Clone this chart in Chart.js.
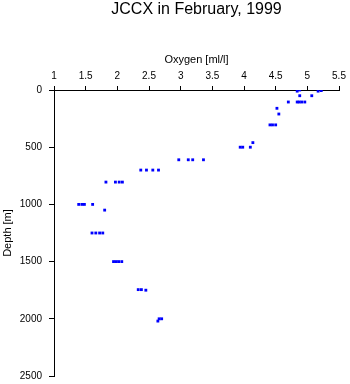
<!DOCTYPE html>
<html>
<head>
<meta charset="utf-8">
<script src="https://cdn.jsdelivr.net/npm/chart.js@4/dist/chart.umd.min.js"></script>
<style>
html,body{margin:0;padding:0;background:#fff;}
canvas{display:block;}
</style>
</head>
<body>
<canvas id="c" width="350" height="384"></canvas>
<script>
const titleText = "JCCX in February, 1999";
const xTitle = "Oxygen [ml/l]";
const yTitle = "Depth [m]";
const xTicks = [1, 1.5, 2, 2.5, 3, 3.5, 4, 4.5, 5, 5.5];
const yTicks = [0, 500, 1000, 1500, 2000, 2500];
const oxygen = [4.84, 4.88, 5.17, 5.22, 4.88, 5.07,
  4.70, 4.84, 4.87, 4.91, 4.96, 4.52, 4.55, 4.41, 4.45, 4.50,
  4.14, 3.94, 3.98, 4.10,
  2.97, 3.12, 3.19, 3.36,
  2.37, 2.46, 2.56, 2.65,
  1.82, 1.97, 2.03, 2.08,
  1.39, 1.44, 1.48, 1.61, 1.80,
  1.60, 1.66, 1.72, 1.77,
  1.94, 1.98, 2.02, 2.07,
  2.33, 2.38, 2.45,
  2.66, 2.70, 2.64];
const depth = [10, 0, 10, 5, 50, 50,
  105, 105, 105, 105, 105, 160, 210, 305, 305, 305,
  460, 500, 500, 500,
  610, 610, 610, 610,
  700, 700, 700, 700,
  805, 805, 805, 805,
  1000, 1000, 1000, 1000, 1050,
  1250, 1250, 1250, 1250,
  1500, 1500, 1500, 1500,
  1745, 1745, 1750,
  2000, 2000, 2020];

const pts = oxygen.map((o, i) => ({x: o, y: depth[i]}));
const FONT = '"Liberation Sans", Arial, Helvetica, sans-serif';

const plotTitle = {
  id: 'plotTitle',
  afterDraw(chart) {
    const ctx = chart.ctx, a = chart.chartArea;
    ctx.save();
    ctx.fillStyle = '#000';
    ctx.font = '16px ' + FONT;
    ctx.textAlign = 'center';
    ctx.textBaseline = 'middle';
    ctx.fillText(titleText, (a.left + a.right) / 2, 10);
    ctx.restore();
  }
};

new Chart(document.getElementById('c'), {
  type: 'scatter',
  data: {
    datasets: [{
      data: pts,
      pointStyle: 'rect',
      pointRadius: 2,
      pointHoverRadius: 2,
      borderWidth: 0,
      backgroundColor: '#0000ff',
      borderColor: '#0000ff'
    }]
  },
  plugins: [plotTitle],
  options: {
    responsive: false,
    animation: false,
    layout: {padding: {left: 0, right: 11, top: 40, bottom: 8}},
    plugins: {
      legend: {display: false},
      tooltip: {enabled: false},
      title: {display: false}
    },
    scales: {
      x: {
        type: 'linear',
        position: 'top',
        min: 1, max: 5.5,
        afterBuildTicks: (s) => { s.ticks = xTicks.map(v => ({value: v})); },
        afterFit: (s) => { s.height = 50; s.paddingLeft = 0; s.paddingRight = 0; },
        grid: {display: true, drawOnChartArea: false, drawTicks: true, tickLength: 4, color: '#000', lineWidth: 1},
        border: {display: true, color: '#000', width: 1},
        ticks: {color: '#000', padding: 4, font: {family: FONT, size: 10}, maxRotation: 0, autoSkip: false,
          callback: (v) => String(v)},
        title: {display: true, text: xTitle, color: '#000', font: {family: FONT, size: 11}, padding: {top: 13, bottom: 0}}
      },
      y: {
        type: 'linear',
        position: 'left',
        reverse: true,
        min: 0, max: 2500,
        afterBuildTicks: (s) => { s.ticks = yTicks.map(v => ({value: v})); },
        afterFit: (s) => { s.width = 54; s.paddingTop = 0; s.paddingBottom = 0; },
        grid: {display: true, drawOnChartArea: false, drawTicks: true, tickLength: 5, color: '#000', lineWidth: 1},
        border: {display: true, color: '#000', width: 1},
        ticks: {color: '#000', padding: 7, font: {family: FONT, size: 10}, autoSkip: false,
          callback: (v) => String(v)},
        title: {display: true, text: yTitle, color: '#000', font: {family: FONT, size: 11}, padding: {top: 1.5, bottom: 0}}
      }
    }
  }
});
</script>
</body>
</html>
